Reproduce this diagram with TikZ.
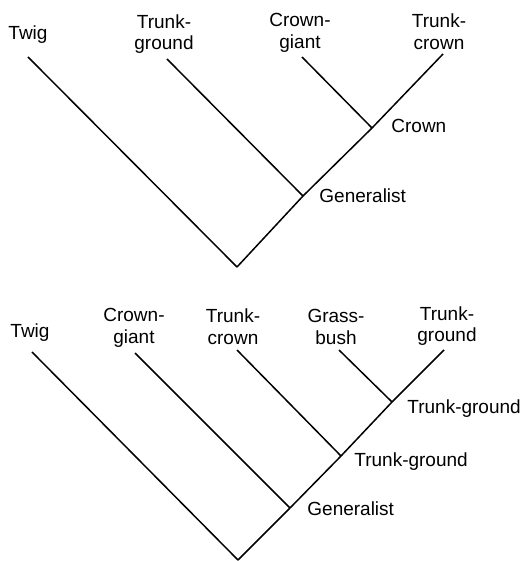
\documentclass[tikz,border=0pt]{standalone}
\usepackage{fontspec}
\setmainfont{Liberation Sans}
\usepackage{tikz}
\pgfdeclarelayer{edgelayer}
\pgfdeclarelayer{nodelayer}
\pgfsetlayers{edgelayer,nodelayer,main}
\tikzstyle{taxon}=[align=center,inner sep=0pt,font=\fontsize{9.5}{10.8}\selectfont]
\tikzstyle{state}=[anchor=base west,inner sep=0pt,font=\fontsize{9.5}{10.8}\selectfont]
\tikzstyle{branch}=[line width=0.75pt]

\begin{document}
\begin{tikzpicture}[x=0.5pt,y=-0.5pt]
        \useasboundingbox (0,0) rectangle (522,561);
        \begin{pgfonlayer}{nodelayer}
            % upper tree
            \coordinate (twigA) at (28, 57);
            \coordinate (tgroundA) at (167, 59);
            \coordinate (cgiantA) at (302, 57);
            \coordinate (tcrownA) at (443, 54);
            \coordinate (crownA) at (372, 128);
            \coordinate (genA) at (303, 196);
            \coordinate (rootA) at (237, 267);
            \node [style = taxon] (twigAtxt) at (28, 35) {Twig};
            \node [style = taxon] (tgroundAtxt) at (164, 34) {Trunk-\\ground};
            \node [style = taxon] (cgiantAtxt) at (300, 33) {Crown-\\giant};
            \node [style = taxon] (tcrownAtxt) at (439, 32) {Trunk-\\crown};
            \node [style = state] (crownAtxt) at (391, 133) {Crown};
            \node [style = state] (genAtxt) at (319, 203) {Generalist};
            % lower tree
            \coordinate (twigB) at (32, 352);
            \coordinate (cgiantB) at (135, 353);
            \coordinate (tcrownB) at (237, 350);
            \coordinate (gbushB) at (339, 350);
            \coordinate (tgroundB) at (444, 350);
            \coordinate (tgB) at (392, 402);
            \coordinate (tgBB) at (341, 456);
            \coordinate (genB) at (290, 508);
            \coordinate (rootB) at (238, 560);
            \node [style = taxon] (twigBtxt) at (30, 333) {Twig};
            \node [style = taxon] (cgiantBtxt) at (134, 328) {Crown-\\giant};
            \node [style = taxon] (tcrownBtxt) at (233, 327) {Trunk-\\crown};
            \node [style = taxon] (gbushBtxt) at (336, 327) {Grass-\\bush};
            \node [style = taxon] (tgroundBtxt) at (447, 326) {Trunk-\\ground};
            \node [style = state] (tgBtxt) at (407, 413) {Trunk-ground};
            \node [style = state] (tgBBtxt) at (354, 466) {Trunk-ground};
            \node [style = state] (genBtxt) at (307, 515) {Generalist};
        \end{pgfonlayer}

        \begin{pgfonlayer}{edgelayer}
            \draw [style = branch] (twigA) to (rootA);
            \draw [style = branch] (genA) to (rootA);
            \draw [style = branch] (tgroundA) to (genA);
            \draw [style = branch] (crownA) to (genA);
            \draw [style = branch] (cgiantA) to (crownA);
            \draw [style = branch] (tcrownA) to (crownA);
            \draw [style = branch] (twigB) to (rootB);
            \draw [style = branch] (genB) to (rootB);
            \draw [style = branch] (cgiantB) to (genB);
            \draw [style = branch] (tgBB) to (genB);
            \draw [style = branch] (tcrownB) to (tgBB);
            \draw [style = branch] (tgB) to (tgBB);
            \draw [style = branch] (gbushB) to (tgB);
            \draw [style = branch] (tgroundB) to (tgB);
        \end{pgfonlayer}
    \end{tikzpicture}
\end{document}
